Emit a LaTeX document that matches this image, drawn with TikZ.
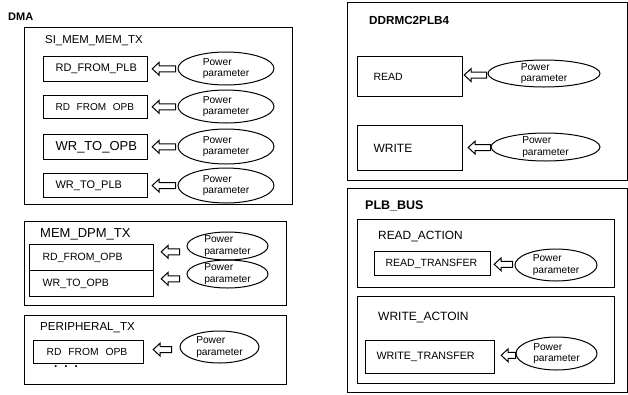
\documentclass[tikz,border=0pt]{standalone}
\usepackage{fontspec}
\setmainfont{Liberation Sans}
\usetikzlibrary{calc,shapes.geometric}
\newcommand\fs[1]{\fontsize{#1}{#1}\selectfont}
\newcommand\blockarr[4]{%
  \draw[barr] let \p1=(#1.east), \p2=(#2.west), \p3=($(#1.center)!0.5!(#2.center)$) in
  (\x1+#3,\y3) -- (\x1+#3+7,\y3+6.5) -- (\x1+#3+7,\y3+3) -- (\x2-#4,\y3+3)
  -- (\x2-#4,\y3-3) -- (\x1+#3+7,\y3-3) -- (\x1+#3+7,\y3-6.5) -- cycle;}
\begin{document}
\begin{tikzpicture}[x=1pt,y=-1pt,
  obox/.style={draw,line width=0.8pt},
  ibox/.style={draw,line width=1.2pt,anchor=north west,align=left,inner ysep=0pt},
  pell/.style={draw,ellipse,line width=1pt,inner sep=0pt},
  plab/.style={align=left,inner sep=0pt,font=\fontsize{10.2}{11.5}\selectfont},
  ttl/.style={anchor=west,inner sep=0pt},
  barr/.style={draw,line width=1pt,line join=miter}]
\useasboundingbox (0,0) rectangle (628,394);
% outer frames
\draw[obox] (24,27) rectangle (292,204);
\draw[obox] (24,221) rectangle (286,305);
\draw[obox] (24,315) rectangle (286,384);
\draw[obox] (347,2) rectangle (627,180);
\draw[obox] (347,188) rectangle (627,392);
\draw[obox] (357,219) rectangle (614,287);
\draw[obox] (357,296) rectangle (614,383);
% titles
\node[ttl,font=\bfseries\fs{11}] (tdma) at (8,17) {DMA};
\node[ttl,font=\fs{11.4}] (tsi) at (45,41) {SI\_MEM\_MEM\_TX};
\node[ttl,font=\fs{13}] (tmem) at (40,234) {MEM\_DPM\_TX};
\node[ttl,font=\fs{11.6}] (tper) at (40,328) {PERIPHERAL\_TX};
\node[ttl,font=\bfseries\fs{11.7}] (tddr) at (369,20) {DDRMC2PLB4};
\node[ttl,font=\bfseries\fs{12.5}] (tplb) at (365,206) {PLB\_BUS};
\node[ttl,font=\fs{11.9}] (tra) at (378,237) {READ\_ACTION};
\node[ttl,font=\fs{12}] (twa) at (378,317) {WRITE\_ACTOIN};
% inner boxes
\node[ibox,font=\fs{11},text width=80pt,inner xsep=12pt,minimum height=25pt] (b1) at (43,56) {\mbox{RD\_FROM\_PLB}};
\node[ibox,font=\fs{10},text width=80pt,inner xsep=12pt,minimum height=23pt] (b2) at (43,95) {\mbox{RD\ \ FROM\ \ OPB}};
\node[ibox,font=\fs{13},text width=80pt,inner xsep=12pt,minimum height=25pt] (b3) at (43,134) {\mbox{WR\_TO\_OPB}};
\node[ibox,font=\fs{11},text width=80pt,inner xsep=12pt,minimum height=24pt] (b4) at (43,173) {\mbox{WR\_TO\_PLB}};
\node[ibox,font=\fs{10.5},text width=98pt,inner xsep=13pt,minimum height=26pt] (b5) at (29,244) {\mbox{RD\_FROM\_OPB}};
\node[ibox,font=\fs{10.6},text width=98pt,inner xsep=13pt,minimum height=26pt] (b6) at (29,270) {\mbox{WR\_TO\_OPB}};
\node[ibox,font=\fs{10.3},text width=84pt,inner xsep=13pt,minimum height=23pt] (b7) at (33,340) {\mbox{RD\ \ FROM\ \ OPB}};
\node[ibox,font=\fs{10.5},text width=73pt,inner xsep=16pt,minimum height=40pt] (b8) at (357,56) {\mbox{READ}};
\node[ibox,font=\fs{12},text width=73pt,inner xsep=16pt,minimum height=45pt] (b9) at (357,125) {\mbox{WRITE}};
\node[ibox,font=\fs{10.5},text width=94pt,inner xsep=11pt,minimum height=24pt] (b10) at (374,251) {\mbox{READ\_TRANSFER}};
\node[ibox,font=\fs{10.7},text width=107pt,inner xsep=11pt,minimum height=33pt] (b11) at (365,340) {\mbox{WRITE\_TRANSFER}};
\node[font=\bfseries\fs{12},inner sep=0pt] (dots) at (66,367) {.\hspace{7pt}.\hspace{7pt}.};
% ellipses
\node[pell,minimum width=96pt,minimum height=33pt,label={[plab]center:{Power\\parameter}}] (e1) at (226,68.5) {};
\node[pell,minimum width=96pt,minimum height=33pt,label={[plab]center:{Power\\parameter}}] (e2) at (226,106.5) {};
\node[pell,minimum width=96pt,minimum height=35pt,label={[plab]center:{Power\\parameter}}] (e3) at (226,146.5) {};
\node[pell,minimum width=96pt,minimum height=35pt,label={[plab]center:{Power\\parameter}}] (e4) at (226,185.5) {};
\node[pell,minimum width=81pt,minimum height=28pt,label={[plab]center:{Power\\parameter}}] (e5) at (227.5,246) {};
\node[pell,minimum width=81pt,minimum height=28pt,label={[plab]center:{Power\\parameter}}] (e6) at (227.5,274) {};
\node[pell,minimum width=79pt,minimum height=32pt,label={[plab]center:{Power\\parameter}}] (e7) at (219.5,347) {};
\node[pell,minimum width=112pt,minimum height=27pt,label={[plab]center:{Power\\parameter}}] (e8) at (544,73.5) {};
\node[pell,minimum width=109pt,minimum height=28pt,label={[plab]center:{Power\\parameter}}] (e9) at (545.5,147) {};
\node[pell,minimum width=82pt,minimum height=32pt,label={[plab]center:{Power\\parameter}}] (e10) at (556,265) {};
\node[pell,minimum width=81pt,minimum height=33pt,label={[plab]center:{Power\\parameter}}] (e11) at (556.5,353.5) {};
% block arrows
\blockarr{b1}{e1}{4}{2}
\blockarr{b2}{e2}{4}{2}
\blockarr{b3}{e3}{4}{2}
\blockarr{b4}{e4}{4}{2}
\blockarr{b5}{e5}{7}{7}
\blockarr{b6}{e6}{7}{7}
\blockarr{b7}{e7}{9}{8}
\blockarr{b8}{e8}{1}{1}
\blockarr{b9}{e9}{5}{0}
\blockarr{b10}{e10}{3}{2}
\blockarr{b11}{e11}{6}{0}
\end{tikzpicture}
\end{document}
